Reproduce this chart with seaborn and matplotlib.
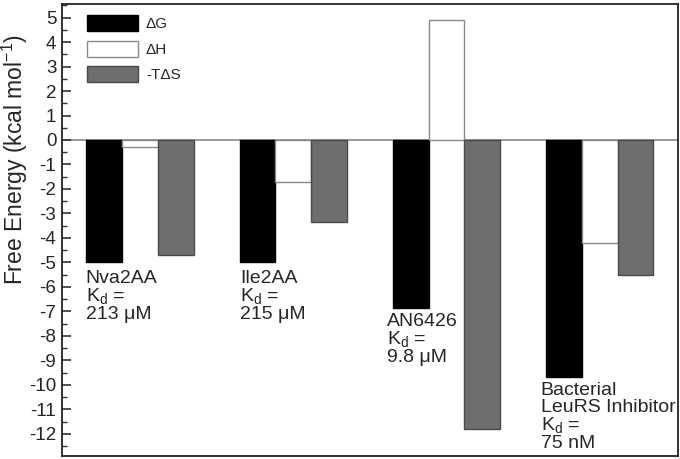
import pandas as pd
import matplotlib.pyplot as plt
import seaborn as sns

# Values (kcal/mol)
compounds = ["Nva2AA", "Ile2AA", "AN6426", "Bacterial LeuRS Inhibitor"]
terms = ["ΔG", "ΔH", "-TΔS"]
dG = [-5.0, -5.0, -6.85, -9.7]
dH = [-0.3, -1.7, 4.9, -4.2]
minus_TdS = [-4.7, -3.35, -11.8, -5.5]
kd_labels = ["213 μM", "215 μM", "9.8 μM", "75 nM"]
name_labels = ["Nva2AA", "Ile2AA", "AN6426", "Bacterial\nLeuRS Inhibitor"]

sns.set_style("ticks")
plt.rcParams["font.family"] = ["Liberation Sans", "DejaVu Sans"]
plt.rcParams["mathtext.fontset"] = "custom"
plt.rcParams["mathtext.rm"] = "Liberation Sans"
plt.rcParams["mathtext.it"] = "Liberation Sans:italic"
plt.rcParams["axes.unicode_minus"] = False

df = pd.DataFrame({
    "compound": compounds * 3,
    "term": [terms[0]] * 4 + [terms[1]] * 4 + [terms[2]] * 4,
    "energy": dG + dH + minus_TdS,
})

fills = {"ΔG": "#000000", "ΔH": "#ffffff", "-TΔS": "#6e6e6e"}
edges = {"ΔG": "#000000", "ΔH": "#8a8a8a", "-TΔS": "#4a4a4a"}

fig = plt.figure(figsize=(6.8, 4.59), dpi=100)
ax = fig.add_axes([0.091, 0.007, 0.906, 0.984])

sns.barplot(data=df, x="compound", y="energy", hue="term", palette=fills,
            width=0.7, ax=ax, errorbar=None, saturation=1)

for container, term in zip(ax.containers, terms):
    for bar in container:
        bar.set_edgecolor(edges[term])
        bar.set_linewidth(1.0)

ax.axhline(0, color="#888888", lw=1.2, zorder=0.5)

ax.set_xlim(-0.51, 3.51)
ax.set_ylim(-12.9, 5.55)
ax.set_yticks(range(-12, 6))
ax.set_yticks([v + 0.5 for v in range(-13, 6)], minor=True)
ax.tick_params(axis="y", which="major", direction="in", length=6.5, width=1.2,
               labelsize=13.5, color="#333333", pad=4)
ax.tick_params(axis="y", which="minor", direction="in", length=3.5, width=1.0,
               color="#333333")
ax.set_xticks([])
ax.set_xlabel("")
ax.set_ylabel("Free Energy (kcal mol$^{-1}$)", fontsize=16.5)
ax.yaxis.set_label_coords(-0.051, 0.655)
for sp in ax.spines.values():
    sp.set_visible(True)
    sp.set_linewidth(1.3)
    sp.set_color("#222222")

# compound labels below bars
label_x = [-0.355, 0.655, 1.61, 2.615]
label_y = [-5.3, -5.3, -7.05, -9.88]
for x, y, name, kd in zip(label_x, label_y, name_labels, kd_labels):
    ax.text(x, y, name + "\nK$_\\mathrm{d}$ =\n" + kd, ha="left", va="top",
            fontsize=14, linespacing=0.98)

leg = ax.legend(loc="upper left", bbox_to_anchor=(0.041, 0.975), frameon=False,
                fontsize=11, handlelength=3.3, handleheight=1.2,
                labelspacing=0.62, handletextpad=0.55, borderaxespad=0,
                borderpad=0)
for h, term in zip(leg.legend_handles, terms):
    h.set_edgecolor(edges[term])

fig.savefig("out.png", dpi=100)
